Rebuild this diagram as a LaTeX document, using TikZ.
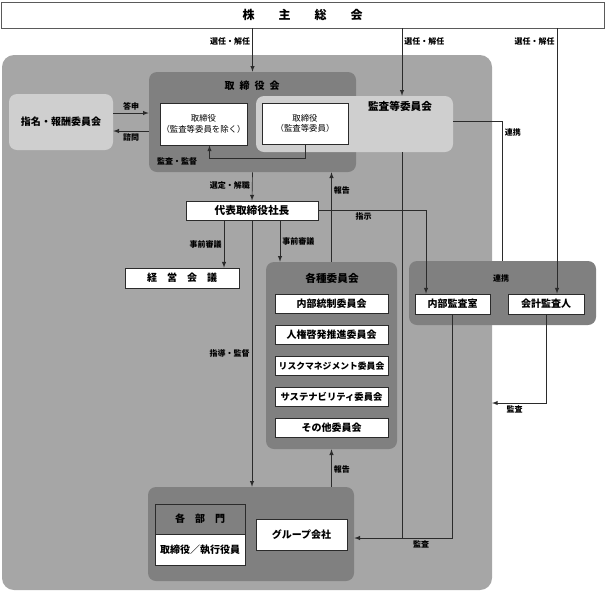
\documentclass[tikz,border=0pt]{standalone}
\usepackage{fontspec}
\setmainfont{Noto Sans CJK JP}
\definecolor{panelg}{HTML}{A6A6A6}
\definecolor{darkg}{HTML}{808080}
\definecolor{lightg}{HTML}{CFCFCF}
\definecolor{linec}{HTML}{2B2B2B}
\tikzset{
  sz/.style 2 args={minimum width=#1*0.75pt,minimum height=#2*0.75pt},
  wbox/.style={draw=linec,fill=white,line width=0.6pt,inner sep=0pt,align=center,font=\fontsize{7.5}{9}\selectfont\bfseries},
  cbox/.style={wbox,sz={113}{19}},
  dbox/.style={fill=darkg,rounded corners=6pt,inner sep=0pt},
  lbox/.style={fill=lightg,rounded corners=6pt,inner sep=0pt},
  ttl/.style={inner sep=0pt,font=\fontsize{7.5}{9}\selectfont\bfseries},
  lbl/.style={inner sep=1.5pt,font=\fontsize{6}{7}\selectfont\bfseries},
  wire/.style={draw=linec,line width=0.5pt},
  arr/.style={wire,->,>=latex}
}

\begin{document}
\begin{tikzpicture}[x=0.75pt,y=-0.75pt]
\useasboundingbox (0,0) rectangle (606,594);

% background panel
\fill[panelg,rounded corners=9pt] (2,55) rectangle (492,590);

\node[wbox,draw=darkg!70!black,sz={603}{26},font=\fontsize{9}{10}\selectfont\bfseries] (gm) at (302.5,15)
  {株\hspace{2em}主\hspace{2em}総\hspace{2em}会};

% board
\node[dbox,sz={207}{100}] (bod) at (252.5,122) {};
\node[ttl] (bodt) at (252,86) {取\hspace{0.5em}締\hspace{0.5em}役\hspace{0.5em}会};
\node[wbox,sz={87}{42},font=\fontsize{6.3}{8}\selectfont] (dir1) at (203.5,124) {取締役\\（監査等委員を除く）};
\node[lbox,sz={197}{56}] (acb) at (354.5,124) {};
\node[ttl,font=\fontsize{8}{9}\selectfont\bfseries] (acbt) at (400,106) {監査等委員会};
\node[wbox,sz={86}{41},font=\fontsize{6.3}{8}\selectfont] (dir2) at (305,123.5) {取締役\\（監査等委員）};
\node[lbox,sz={104}{56},ttl] (nrc) at (61,122) {指名・報酬委員会};

% executives
\node[wbox,sz={132}{19},font=\fontsize{8}{9}\selectfont\bfseries] (ceo) at (252,210.5) {代表取締役社長};
\node[wbox,sz={114}{20}] (mgmt) at (182,278) {経\hspace{1em}営\hspace{1em}会\hspace{1em}議};

% committees
\node[dbox,sz={131}{187}] (comm) at (331.5,355.5) {};
\node[ttl,font=\fontsize{8}{9}\selectfont\bfseries] (commt) at (332,278) {各種委員会};
\node[cbox] (c1) at (331.5,303.5) {内部統制委員会};
\node[cbox] (c2) at (331.5,335) {人権啓発推進委員会};
\node[cbox,font=\fontsize{6.6}{8}\selectfont\bfseries] (c3) at (331.5,366) {リスクマネジメント委員会};
\node[cbox,font=\fontsize{7}{8}\selectfont\bfseries] (c4) at (331.5,397) {サステナビリティ委員会};
\node[cbox] (c5) at (331.5,428) {その他委員会};

% audit
\node[dbox,sz={187}{64}] (aud) at (502.5,293) {};
\node[lbl] (audt) at (501,278) {連携};
\node[wbox,sz={75}{20}] (ia) at (452.5,304) {内部監査室};
\node[wbox,sz={76}{20}] (ea) at (546,304) {会計監査人};

% departments
\node[dbox,sz={206}{94}] (grp) at (251,534) {};
\node[wbox,fill=darkg,sz={90}{30}] (depth) at (200,519) {各\hspace{1em}部\hspace{1em}門};
\node[wbox,sz={90}{31}] (deptb) at (200,549.5) {取締役／執行役員};
\node[wbox,sz={91}{31}] (gc) at (301.5,534.5) {グループ会社};

\coordinate (xa) at (402,0);
\coordinate (xe) at (557,0);
\coordinate (xi) at (426,0);
\coordinate (xm) at (224,0);
\coordinate (xc) at (280,0);
\coordinate (ya) at (0,538);
\coordinate (lp) at (0,158);
\coordinate (pe) at (492,403);

\draw[arr] (gm.south -| bod.north) -- (bod.north) node[lbl,left,pos=.3] (l1) {選任・解任};
\draw[arr] (gm.south -| xa) -- (acb.north -| xa) node[lbl,right,pos=.19] (l2) {選任・解任};
\draw[arr] (gm.south -| xe) -- (ea.north -| xe) node[lbl,left,pos=.05] (l3) {選任・解任};

\draw[arr] ([yshift=6.75pt]nrc.east) -- ([yshift=6.75pt]nrc.east -| bod.west) node[lbl,above,midway] (l4) {答申};
\draw[arr] ([yshift=-6.75pt]nrc.east -| bod.west) -- ([yshift=-6.75pt]nrc.east) node[lbl,below,midway] (l5) {諮問};

\draw[arr] (dir2.south) -- (dir2.south |- lp) -| ([xshift=4.5pt]dir1.south);
\node[lbl] (l6) at (177,161) {監査・監督};

\draw[arr] (bod.south) -- (ceo.north) node[lbl,left,pos=.48] (l7) {選定・解職};
\draw[arr] (comm.north) -- (comm.north |- bod.south) node[lbl,right,pos=.8] (l8) {報告};
\draw[arr] (ceo.south -| xm) -- (mgmt.north -| xm) node[lbl,left,midway] (l9) {事前審議};
\draw[arr] (ceo.south -| xc) -- (comm.north -| xc) node[lbl,right,pos=.52] (l10) {事前審議};
\draw[arr] (ceo.south) -- (ceo.south |- grp.north) node[lbl,left,pos=.5] (l11) {指導・監督};
\draw[arr] (ceo.east) -| (ia.north -| xi) node[lbl,below,pos=.21] (l12) {指示};
\draw[wire] ([yshift=2pt]acb.east) -| (aud.north) node[lbl,right,pos=.54] (l13) {連携};

\draw[wire] (acb.south -| xa) -- (xa |- ya);
\draw[arr] (ia.south) |- (grp.east |- ya) node[lbl,below,pos=.66] (l14) {監査};
\draw[arr] (ea.south) |- (pe) node[lbl,below,pos=.79] (l15) {監査};
\draw[arr] (comm.south |- grp.north) -- (comm.south) node[lbl,right,pos=.47] (l16) {報告};
\end{tikzpicture}
\end{document}
